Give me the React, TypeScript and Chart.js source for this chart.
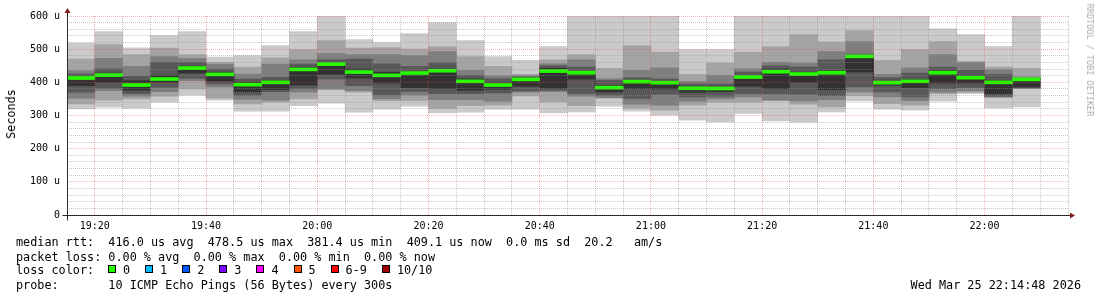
import React, { useEffect, useRef } from 'react';
import { Chart, registerables } from 'chart.js';

Chart.register(...registerables);

// time axis, minutes of the day
const startMinute = 19 * 60 + 15; // 19:15
const endMinute = 22 * 60 + 15; // 22:15
const stepMinute = 5;

// 10 sorted ping RTTs (microseconds) for each 5-minute interval, lowest first
const ping1 = [320, 325, 322, 340, 361, 346, 313, 313, 330, 337, 310, 319, 328, 308, 310, 319, 319, 308, 311, 328, 313, 301, 286, 281, 306, 284, 280, 311, 344, 319, 316, 343, 366, 323, 326];
const ping2 = [335, 346, 350, 358, 380, 352, 335, 340, 350, 378, 370, 345, 345, 321, 330, 331, 359, 341, 330, 352, 321, 316, 331, 340, 340, 345, 334, 326, 360, 336, 331, 366, 370, 354, 381];
const ping3 = [352, 375, 358, 372, 405, 386, 349, 346, 370, 380, 375, 350, 361, 348, 348, 343, 370, 372, 358, 354, 334, 331, 343, 350, 356, 346, 344, 348, 371, 356, 345, 370, 374, 356, 382];
const ping4 = [370, 382, 366, 385, 412, 395, 361, 372, 381, 410, 390, 362, 372, 366, 366, 368, 374, 376, 366, 361, 351, 364, 356, 358, 366, 365, 364, 360, 386, 371, 356, 381, 384, 358, 383];
const ping5 = [390, 400, 376, 400, 428, 404, 372, 378, 392, 424, 413, 398, 384, 381, 376, 379, 388, 382, 410, 371, 381, 380, 370, 372, 388, 381, 400, 378, 431, 391, 384, 398, 398, 366, 386];
const ping6 = [415, 428, 405, 420, 448, 430, 400, 405, 445, 458, 440, 430, 432, 440, 410, 398, 413, 442, 432, 390, 405, 402, 386, 385, 420, 440, 430, 435, 480, 403, 408, 435, 420, 405, 412];
const ping7 = [425, 441, 418, 460, 460, 440, 410, 415, 455, 468, 470, 456, 448, 459, 421, 411, 416, 450, 446, 406, 414, 410, 395, 395, 431, 450, 446, 468, 485, 414, 428, 446, 436, 424, 413];
const ping8 = [435, 472, 448, 478, 472, 455, 425, 455, 468, 487, 484, 484, 481, 493, 436, 420, 420, 456, 468, 411, 436, 444, 403, 421, 441, 460, 458, 493, 523, 424, 444, 484, 460, 438, 416];
const ping9 = [470, 514, 484, 503, 484, 460, 446, 474, 499, 526, 503, 505, 500, 508, 478, 448, 424, 468, 484, 442, 511, 491, 424, 458, 491, 508, 544, 521, 556, 466, 499, 523, 463, 446, 442];
const ping10 = [518, 553, 504, 541, 553, 476, 481, 511, 553, 612, 529, 520, 547, 580, 526, 478, 466, 508, 640, 690, 655, 620, 499, 499, 705, 668, 630, 720, 615, 648, 676, 561, 544, 508, 633];

// median RTT per interval (microseconds), all with 0 % loss
const medianRtt = [413, 422, 392, 410, 443, 424, 393, 400, 439, 455, 431, 421, 428, 435, 403, 392, 409, 434, 429, 384, 402, 399, 382, 381.4, 416, 432, 425, 429, 478.5, 399, 403, 429, 414, 400, 409.1];

const yMin = 0;
const yMax = 600;
const yMinorStep = 20;
const yMajorStep = 100;
const xMajorStep = 20;

const smokeColors = ['#cacaca', '#a4a4a4', '#7e7e7e', '#585858', '#323232'];
const medianHalfWidth = 4.5;

const lossColors = [
  { label: '0', color: '#26ff00' },
  { label: '1', color: '#00b8ff' },
  { label: '2', color: '#0059ff' },
  { label: '3', color: '#7e00ff' },
  { label: '4', color: '#ff00ff' },
  { label: '5', color: '#ff5500' },
  { label: '6-9', color: '#ff0000' },
  { label: '10/10', color: '#a10000' },
];

const legendMedian = 'median rtt:  416.0 us avg  478.5 us max  381.4 us min  409.1 us now  0.0 ms sd  20.2   am/s';
const legendLoss = 'packet loss: 0.00 % avg  0.00 % max  0.00 % min  0.00 % now';
const legendLossColor = 'loss color:';
const legendProbe = 'probe:       10 ICMP Echo Pings (56 Bytes) every 300s';
const dateText = 'Wed Mar 25 22:14:48 2026';
const yTitle = 'Seconds';
const watermark = 'RRDTOOL / TOBI OETIKER';

const MONO = "'DejaVu Sans Mono', monospace";
const GRID_MINOR = 'rgba(143,143,143,0.5)';
const GRID_MAJOR = 'rgba(222,79,79,0.42)';
const AXIS = '#2a2a2a';
const ARROW = '#801f1f';

const fmtTime = (m: number) => {
  const h = Math.floor(m / 60);
  const mm = m % 60;
  return `${String(h).padStart(2, '0')}:${String(mm).padStart(2, '0')}`;
};

const axesPlugin = {
  id: 'rrdAxes',
  afterDraw(chart: any) {
    const { ctx, chartArea } = chart;
    const { left, right, top, bottom } = chartArea;
    const xl = Math.round(left) + 0.5;
    const yb = Math.round(bottom) + 0.5;
    ctx.save();
    ctx.strokeStyle = AXIS;
    ctx.lineWidth = 1;
    ctx.beginPath();
    ctx.moveTo(xl - 5, yb);
    ctx.lineTo(right + 3, yb);
    ctx.moveTo(xl, yb + 5);
    ctx.lineTo(xl, top - 4);
    ctx.stroke();
    ctx.fillStyle = ARROW;
    ctx.beginPath();
    ctx.moveTo(right + 2, yb - 3);
    ctx.lineTo(right + 7, yb);
    ctx.lineTo(right + 2, yb + 3);
    ctx.closePath();
    ctx.fill();
    ctx.beginPath();
    ctx.moveTo(xl - 3, top - 3);
    ctx.lineTo(xl, top - 8);
    ctx.lineTo(xl + 3, top - 3);
    ctx.closePath();
    ctx.fill();
    ctx.restore();
  },
};

export default function App() {
  const canvasRef = useRef<HTMLCanvasElement | null>(null);

  useEffect(() => {
    if (!canvasRef.current) return;
    const pings = [ping1, ping2, ping3, ping4, ping5, ping6, ping7, ping8, ping9, ping10];
    const centers = medianRtt.map((_, i) => startMinute + stepMinute * (i + 0.5));

    const smokeSets = smokeColors.map((color, k) => ({
      type: 'bar' as const,
      label: `smoke${k + 1}`,
      data: centers.map((x, i) => ({ x, y: [pings[k][i], pings[9 - k][i]] })),
      backgroundColor: color,
      borderWidth: 0,
      grouped: false,
      barPercentage: 1,
      categoryPercentage: 1,
      order: 10 - k,
    }));

    const medianLine = {
      type: 'line' as const,
      label: 'median',
      data: [
        ...medianRtt.map((v, i) => ({ x: startMinute + stepMinute * i, y: v })),
        { x: startMinute + stepMinute * medianRtt.length, y: medianRtt[medianRtt.length - 1] },
      ],
      borderColor: '#202020',
      borderWidth: 1,
      pointRadius: 0,
      stepped: 'before' as const,
      fill: false,
      order: 2,
    };

    const medianBand = {
      type: 'bar' as const,
      label: 'loss 0',
      data: centers.map((x, i) => ({ x, y: [medianRtt[i] - medianHalfWidth, medianRtt[i] + medianHalfWidth] })),
      backgroundColor: lossColors[0].color,
      borderWidth: 0,
      grouped: false,
      barPercentage: 1,
      categoryPercentage: 1,
      order: 0,
    };

    const chart = new Chart(canvasRef.current, {
      type: 'bar',
      data: { datasets: [...smokeSets, medianLine, medianBand] as any },
      plugins: [axesPlugin],
      options: {
        animation: false,
        responsive: false,
        devicePixelRatio: 1,
        events: [],
        layout: { autoPadding: false, padding: { top: 16, right: 29, left: 0, bottom: 0 } },
        plugins: { legend: { display: false }, tooltip: { enabled: false }, title: { display: false } },
        scales: {
          x: {
            type: 'linear',
            min: startMinute,
            max: endMinute,
            offset: false,
            afterFit: (s: any) => { s.height = 82; },
            grid: {
              z: 1,
              offset: false,
              drawTicks: false,
              lineWidth: 1,
              color: (c: any) => {
                const v = c.tick ? c.tick.value : 0;
                if (v === startMinute) return 'rgba(0,0,0,0)';
                return v % xMajorStep === 0 ? GRID_MAJOR : GRID_MINOR;
              },
            },
            border: { display: false, dash: [1, 1] },
            ticks: {
              stepSize: stepMinute,
              autoSkip: false,
              maxRotation: 0,
              minRotation: 0,
              padding: 5,
              color: '#000',
              font: { family: MONO, size: 10 },
              callback: (v: any) => (Number(v) % xMajorStep === 0 ? fmtTime(Number(v)) : ''),
            },
          },
          y: {
            type: 'linear',
            min: yMin,
            max: yMax,
            afterFit: (s: any) => { s.width = 67; },
            grid: {
              z: 1,
              drawTicks: false,
              lineWidth: 1,
              color: (c: any) => {
                const v = c.tick ? c.tick.value : 0;
                if (v === 0) return 'rgba(0,0,0,0)';
                return v % yMajorStep === 0 ? GRID_MAJOR : GRID_MINOR;
              },
            },
            border: { display: false, dash: [1, 1] },
            ticks: {
              stepSize: yMinorStep,
              autoSkip: false,
              padding: 7,
              color: '#000',
              font: { family: MONO, size: 10 },
              callback: (v: any) => {
                const n = Number(v);
                if (n % yMajorStep !== 0) return '';
                return n === 0 ? '0' : `${n} u`;
              },
            },
          },
        },
      } as any,
    });
    return () => chart.destroy();
  }, []);

  const charW = 7.1;
  let lx = 108;
  const lossItems = lossColors.map((lc) => {
    const item = { ...lc, left: lx };
    lx += 15 + lc.label.length * charW + 15;
    return item;
  });

  const textStyle: React.CSSProperties = {
    position: 'absolute',
    fontFamily: MONO,
    fontSize: '11.8px',
    lineHeight: '14px',
    whiteSpace: 'pre',
    color: '#000',
  };

  return (
    <div style={{ position: 'absolute', left: 0, top: 0, width: 1097, height: 297, background: '#fff', overflow: 'hidden' }}>
      <canvas ref={canvasRef} width={1097} height={297} style={{ position: 'absolute', left: 0, top: 0, width: 1097, height: 297 }} />
      <div style={{ ...textStyle, left: 10.5, top: 114, transform: 'translate(-50%, -50%) rotate(-90deg)' }}>{yTitle}</div>
      <div style={{ ...textStyle, left: 1090, top: 60, fontSize: '8.5px', color: '#aaaaaa', transform: 'translate(-50%, -50%) rotate(90deg)' }}>{watermark}</div>
      <div style={{ ...textStyle, left: 16, top: 235 }}>{legendMedian}</div>
      <div style={{ ...textStyle, left: 16, top: 249.5 }}>{legendLoss}</div>
      <div style={{ ...textStyle, left: 16, top: 263 }}>{legendLossColor}</div>
      {lossItems.map((it) => (
        <React.Fragment key={it.label}>
          <div style={{ position: 'absolute', left: it.left, top: 265, width: 8, height: 8, boxSizing: 'border-box', border: '1px solid #000', background: it.color }} />
          <div style={{ ...textStyle, left: it.left + 15, top: 263 }}>{it.label}</div>
        </React.Fragment>
      ))}
      <div style={{ ...textStyle, left: 16, top: 278 }}>{legendProbe}</div>
      <div style={{ ...textStyle, right: 16, top: 278, textAlign: 'right' }}>{dateText}</div>
    </div>
  );
}
